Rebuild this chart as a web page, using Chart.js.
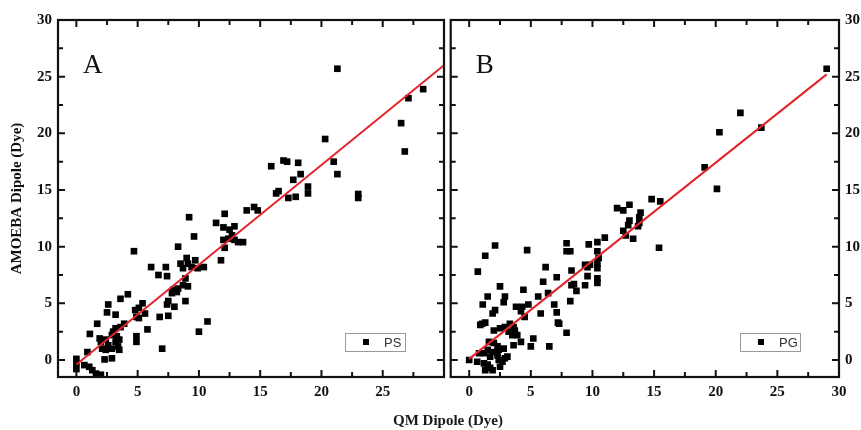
<!DOCTYPE html>
<html>
<head>
<meta charset="utf-8">
<script src="https://cdn.jsdelivr.net/npm/chart.js@4.4.0/dist/chart.umd.min.js"></script>
<style>
  body { margin: 0; background: #fff; }
  #wrap { position: relative; width: 861px; height: 430px; overflow: hidden; }
  canvas { position: absolute; top: 0; }
  #chartA { left: 0; }
  #chartB { left: 446px; }
  #xTitle { position: absolute; left: 298px; width: 300px; top: 411px; text-align: center;
            font: bold 15px "Liberation Serif", serif; line-height: 18px; color: #1a1a1a; }
</style>
</head>
<body>
<div id="wrap">
  <canvas id="chartA" width="450" height="430"></canvas>
  <canvas id="chartB" width="415" height="430"></canvas>
  <div id="xTitle">QM Dipole (Dye)</div>
</div>
<script>
// [QM dipole, AMOEBA dipole] pairs
const psPoints = [
  [0, 0.1], [0, -0.3], [0, -0.8], [0.65, -0.45], [1.05, -0.6], [1.3, -0.9], [1.6, -1.2], [2.0, -1.3],
  [0.9, 0.7], [2.3, 0.05], [2.9, 0.15],
  [1.9, 1.9], [2.0, 1.6], [2.4, 1.8], [2.6, 1.3], [2.1, 1.0], [2.4, 0.9], [2.9, 1.0], [3.4, 1.2], [3.5, 0.9],
  [3.9, 3.2], [3.6, 2.9], [3.2, 2.8], [3.0, 2.5], [2.9, 2.2], [3.3, 2.1], [3.5, 1.8], [3.2, 1.6],
  [1.7, 3.2], [1.1, 2.3],
  [4.9, 2.1], [4.9, 1.6], [5.8, 2.7],
  [2.6, 4.9], [2.5, 4.2], [3.2, 4.0], [3.6, 5.4], [4.2, 5.8],
  [5.4, 5.0], [5.1, 4.6], [4.8, 4.4], [5.6, 4.1], [5.1, 3.7], [4.9, 3.8],
  [4.7, 9.6],
  [6.1, 8.2], [7.3, 8.2], [6.7, 7.5], [7.4, 7.4],
  [6.8, 3.8], [7.5, 3.9], [7.0, 1.0],
  [7.5, 5.2], [7.4, 4.9], [8.0, 4.7], [8.9, 5.2],
  [7.8, 5.9], [8.2, 6.0], [7.9, 6.2], [8.3, 6.3], [8.7, 6.6], [9.1, 6.5],
  [8.9, 7.2],
  [9.0, 9.0], [9.7, 8.8], [8.5, 8.5], [9.1, 8.5], [9.4, 8.2], [8.7, 8.1], [9.9, 8.1], [10.4, 8.2],
  [8.3, 10.0], [9.6, 10.9], [9.2, 12.6],
  [10.0, 2.5], [10.7, 3.4],
  [11.4, 12.1], [12.1, 12.9], [12.0, 11.7], [12.5, 11.5], [12.9, 11.8], [12.7, 11.0], [12.4, 10.7],
  [12.0, 10.6], [12.9, 10.6], [13.2, 10.4], [13.6, 10.4], [12.1, 9.9], [11.8, 8.8],
  [13.9, 13.2], [14.5, 13.5], [14.8, 13.2],
  [15.9, 17.1], [16.9, 17.6], [17.2, 17.5], [18.1, 17.4], [18.3, 16.4], [17.7, 15.9], [18.9, 15.3],
  [18.9, 14.7], [16.5, 14.9], [16.3, 14.7], [17.3, 14.3], [17.9, 14.4],
  [20.3, 19.5], [21.0, 17.5], [21.3, 16.4], [21.3, 25.7], [23.0, 14.65], [23.0, 14.3],
  [26.5, 20.9], [26.8, 18.4], [27.1, 23.1], [28.3, 23.9]
];
const pgPoints = [
  [0, 0], [0.65, -0.15], [1.2, -0.3], [1.5, -0.4], [1.7, -0.7], [1.3, -0.9], [1.9, -0.9], [2.4, 0.0],
  [2.7, -0.15], [2.9, 0.15], [2.5, -0.6],
  [1.6, 1.6], [2.0, 1.5], [2.3, 1.2], [1.5, 0.9], [1.9, 0.7], [2.4, 0.9], [2.8, 1.0], [3.1, 0.3],
  [2.3, 0.4], [1.7, 0.3], [1.2, 0.6], [0.8, 0.6],
  [1.05, 3.2], [0.9, 3.1], [1.3, 3.3],
  [2.0, 2.6], [2.5, 2.8], [2.9, 2.9], [3.3, 3.2], [3.6, 2.9], [3.2, 2.5], [3.5, 2.2],
  [3.7, 2.6], [3.9, 2.2], [4.2, 1.6], [3.6, 1.3],
  [5.2, 1.9], [5.0, 1.2], [6.5, 1.2],
  [7.2, 3.3], [7.3, 3.2], [7.9, 2.4],
  [1.1, 4.9], [3.8, 4.7], [4.3, 4.7], [4.8, 4.9], [4.2, 4.3], [4.5, 3.8], [2.1, 4.4], [1.9, 4.1],
  [5.8, 4.1], [6.9, 4.9], [7.1, 4.2],
  [1.5, 5.6], [2.9, 5.6], [2.8, 5.1], [5.6, 5.6], [6.4, 5.9],
  [8.5, 6.7], [8.7, 6.1], [8.2, 5.2], [8.3, 6.6],
  [2.5, 6.5], [4.4, 6.2], [6.0, 6.9],
  [0.7, 7.8], [6.2, 8.2], [7.1, 7.3], [8.3, 7.9],
  [9.6, 8.2], [9.8, 8.4], [10.4, 8.1], [9.6, 7.4], [10.4, 7.2], [10.4, 6.8], [9.4, 6.6],
  [10.5, 9.0], [10.4, 8.5], [9.4, 8.4],
  [2.1, 10.1], [1.3, 9.2], [4.7, 9.7],
  [7.9, 10.3], [7.9, 9.6], [8.2, 9.6], [10.4, 10.4], [9.7, 10.2], [10.4, 9.6], [11.0, 10.8],
  [12.0, 13.4], [12.5, 13.2], [13.0, 13.7], [13.9, 13.0], [13.8, 12.6], [13.0, 12.3], [12.9, 11.9],
  [13.8, 12.1], [13.7, 11.8], [12.5, 11.4], [12.7, 11.0], [13.3, 10.7],
  [14.8, 14.2], [15.5, 14.0], [15.4, 9.9],
  [19.1, 17.0], [20.1, 15.1], [20.3, 20.1], [22.0, 21.8], [23.7, 20.5], [29.0, 25.7]
];
// fitted line ends
const psFit = [[0, -0.4], [30, 26.0]];
const pgFit = [[0, 0.1], [29, 25.2]];

const majorTicks = [0, 5, 10, 15, 20, 25, 30];
const tickMarks = [0, 2.5, 5, 7.5, 10, 12.5, 15, 17.5, 20, 22.5, 25, 27.5, 30];

const textColor = '#111';
const tickFont = { family: 'Liberation Serif', weight: 'bold', size: 15 };

// box, inward ticks, panel letter and legend
const framePlugin = {
  id: 'frame',
  afterDatasetsDraw(chart, args, opts) {
    const { ctx, chartArea: a, scales: { x, y } } = chart;
    ctx.save();
    ctx.strokeStyle = '#111';
    ctx.lineWidth = 2.2;
    ctx.strokeRect(a.left, a.top, a.right - a.left, a.bottom - a.top);
    ctx.lineWidth = 2;
    ctx.beginPath();
    tickMarks.forEach(v => {
      const len = v % 5 === 0 ? 7 : 5;
      const px = x.getPixelForValue(v);
      ctx.moveTo(px, a.bottom); ctx.lineTo(px, a.bottom - len);
      ctx.moveTo(px, a.top); ctx.lineTo(px, a.top + len);
      const py = y.getPixelForValue(v);
      ctx.moveTo(a.left, py); ctx.lineTo(a.left + len, py);
      ctx.moveTo(a.right, py); ctx.lineTo(a.right - len, py);
    });
    ctx.stroke();

    ctx.fillStyle = '#111';
    ctx.font = '27px "Liberation Serif"';
    ctx.textBaseline = 'alphabetic';
    ctx.fillText(opts.letter, a.left + 25, a.top + 53);

    const ds = chart.data.datasets[0];
    const bx = a.right - 99, by = a.bottom - 44;
    ctx.lineWidth = 1;
    ctx.strokeStyle = '#9a9a9a';
    ctx.strokeRect(bx + 0.5, by + 0.5, 60, 18);
    ctx.fillStyle = '#000';
    ctx.fillRect(bx + 18, by + 6, 6, 6);
    ctx.fillStyle = '#333';
    ctx.font = '13px "Liberation Sans"';
    ctx.textBaseline = 'middle';
    ctx.fillText(ds.label, bx + 39, by + 10);
    ctx.restore();
  }
};

function toXY(list) {
  return list.map(p => ({ x: p[0], y: p[1] }));
}

function makeChart(id, points, fit, label, letter, left) {
  const ctx = document.getElementById(id).getContext('2d');
  return new Chart(ctx, {
    type: 'scatter',
    data: {
      datasets: [{
        label: label,
        data: toXY(points),
        pointStyle: 'rect',
        pointRadius: 4.7,
        borderWidth: 0,
        backgroundColor: '#000',
        order: 1
      }, {
        label: 'fit',
        data: toXY(fit),
        showLine: true,
        borderColor: '#e3242b',
        borderWidth: 2,
        pointRadius: 0,
        fill: false,
        order: 0
      }]
    },
    options: {
      responsive: false,
      animation: false,
      devicePixelRatio: 1,
      layout: { padding: left ? { top: 20, right: 2, left: 0, bottom: 0 } : { top: 20, left: 2, right: 0, bottom: 0 } },
      plugins: {
        legend: { display: false },
        tooltip: { enabled: false },
        frame: { letter: letter }
      },
      scales: {
        x: {
          type: 'linear',
          min: -1.5,
          max: 30,
          grid: { display: false, drawTicks: false },
          border: { display: false },
          ticks: {
            font: tickFont,
            color: textColor,
            padding: 6,
            maxRotation: 0,
            autoSkip: false,
            callback: v => (left && v === 30) ? '' : v
          },
          afterBuildTicks: s => { s.ticks = majorTicks.map(v => ({ value: v })); },
          afterFit: s => { s.height = 53; }
        },
        y: {
          type: 'linear',
          position: left ? 'left' : 'right',
          min: -1.5,
          max: 30,
          grid: { display: false, drawTicks: false },
          border: { display: false },
          ticks: { font: tickFont, color: textColor, padding: 6, autoSkip: false },
          title: {
            display: left,
            text: 'AMOEBA Dipole (Dye)',
            font: tickFont,
            color: textColor,
            padding: { top: 8, bottom: 0 }
          },
          afterBuildTicks: s => { s.ticks = majorTicks.map(v => ({ value: v })); },
          afterFit: s => { s.width = left ? 58 : 22; }
        }
      }
    },
    plugins: [framePlugin]
  });
}

makeChart('chartA', psPoints, psFit, 'PS', 'A', true);
makeChart('chartB', pgPoints, pgFit, 'PG', 'B', false);
</script>
</body>
</html>
